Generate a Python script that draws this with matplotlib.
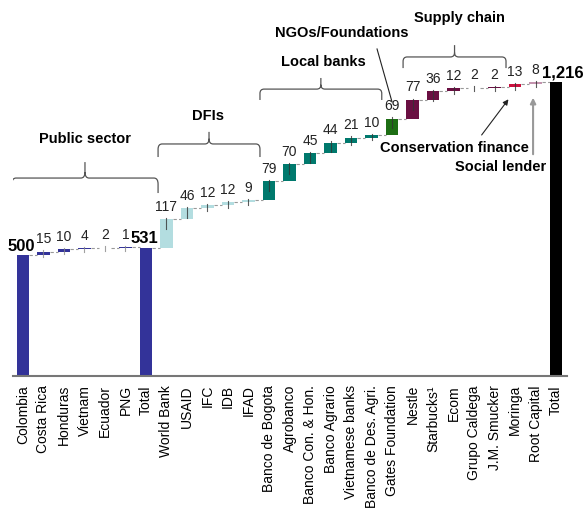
import numpy as np
import matplotlib.pyplot as plt
from matplotlib.path import Path
from matplotlib.patches import PathPatch

plt.rcParams['font.family'] = ['Liberation Sans', 'DejaVu Sans']

# data
labels = ['Colombia', 'Costa Rica', 'Honduras', 'Vietnam', 'Ecuador', 'PNG', 'Total',
          'World Bank', 'USAID', 'IFC', 'IDB', 'IFAD',
          'Banco de Bogota', 'Agrobanco', 'Banco Con. & Hon.', 'Banco Agrario',
          'Vietnamese banks', 'Banco de Des. Agri.',
          'Gates Foundation',
          'Nestle', 'Starbucks\u00b9', 'Ecom', 'Grupo Caldega', 'J.M. Smucker',
          'Moringa', 'Root Capital', 'Total']
values = [500, 15, 10, 4, 2, 1, 531,
          117, 46, 12, 12, 9,
          79, 70, 45, 44, 21, 10,
          69,
          77, 36, 12, 2, 2,
          13, 8, 1216]
groups = ['public'] * 7 + ['dfi'] * 5 + ['bank'] * 6 + ['ngo'] + ['supply'] * 5 + \
         ['conservation', 'social', 'total']
is_total = [True] + [False] * 5 + [True] + [False] * 19 + [True]

colors = {'public': '#333399', 'dfi': '#b3dde0', 'bank': '#00796d', 'ngo': '#1d6e14',
          'supply': '#6a0f42', 'conservation': '#cc103e', 'social': '#c393ae',
          'total': '#000000'}

# waterfall bottoms
bottoms = []
running = 0
for v, t in zip(values, is_total):
    if t:
        bottoms.append(0)
        running = v
    else:
        bottoms.append(running)
        running += v
bottoms = np.array(bottoms)
vals = np.array(values)
tops = bottoms + vals
x = np.arange(len(labels))
w = 0.6

fig = plt.figure(figsize=(5.86, 5.08), dpi=100)
ax = fig.add_axes([12.7 / 586, 132 / 508, (566.7 - 12.7) / 586, 376 / 508])

ax.bar(x, vals, w, bottom=bottoms, color=[colors[g] for g in groups], zorder=2)

# dashed connectors
for i in range(len(x) - 1):
    ax.plot([x[i] + w / 2, x[i + 1] - w / 2], [tops[i], tops[i]],
            color='#999999', lw=0.8, ls=(0, (3, 2)), zorder=1)

# little vertical marks on the step bars
for i in range(len(x)):
    if not is_total[i]:
        c = '#888888' if groups[i] == 'public' else '#333333'
        ax.plot([x[i], x[i]], [tops[i] + 6, tops[i] - min(40, vals[i] * 0.8 + 12)],
                color=c, lw=0.8, alpha=0.8, zorder=3)

# value labels
last = len(x) - 1
for i in range(len(x)):
    txt = '{:,}'.format(values[i])
    if i == last:
        ax.annotate(txt, (x[i] - w / 2, tops[i]), xytext=(-6, 1), textcoords='offset points',
                    ha='left', va='bottom', fontsize=12, fontweight='bold')
    elif is_total[i]:
        ax.annotate(txt, (x[i], tops[i]), xytext=(-1, 1), textcoords='offset points',
                    ha='center', va='bottom', fontsize=12, fontweight='bold')
    else:
        ax.annotate(txt, (x[i], tops[i]), xytext=(0, 4), textcoords='offset points',
                    ha='center', va='bottom', fontsize=10, color='#222222')


def brace(x0, x1, ylo, ymid, ytip):
    xm = (x0 + x1) / 2
    rx, ry = 0.2, (ymid - ylo) * 0.4
    verts = [(x0, ylo), (x0, ymid - ry), (x0, ymid), (x0 + rx, ymid),
             (xm - rx, ymid), (xm, ymid), (xm, ymid + ry), (xm, ytip),
             (xm, ymid + ry), (xm, ymid), (xm + rx, ymid),
             (x1 - rx, ymid), (x1, ymid), (x1, ymid - ry), (x1, ylo)]
    codes = [Path.MOVETO, Path.LINETO, Path.CURVE3, Path.CURVE3,
             Path.LINETO, Path.CURVE3, Path.CURVE3, Path.LINETO,
             Path.MOVETO, Path.CURVE3, Path.CURVE3,
             Path.LINETO, Path.CURVE3, Path.CURVE3, Path.LINETO]
    ax.add_patch(PathPatch(Path(verts, codes), fill=False, ec='#555555', lw=0.9))


brace(-0.54, 6.59, 757, 819, 885)
brace(6.59, 11.56, 906, 960, 1010)
brace(11.56, 17.5, 1142, 1187, 1233)
brace(18.54, 23.56, 1274, 1320, 1369)

bold = dict(fontsize=10.5, fontweight='bold', ha='center', va='center')
ax.text(3.02, 980, 'Public sector', **bold)
ax.text(9.02, 1076, 'DFIs', **bold)
ax.text(14.63, 1299, 'Local banks', **bold)
ax.text(15.56, 1419, 'NGOs/Foundations', **bold)
ax.text(21.27, 1481, 'Supply chain', **bold)
ax.text(21.05, 943, 'Conservation finance', **bold)
ax.text(23.3, 865, 'Social lender', **bold)

# pointers
ax.plot([17.27, 18.0], [1353, 1134], color='#222222', lw=0.8)
ax.annotate('', xy=(23.76, 1154), xytext=(22.29, 988),
            arrowprops=dict(arrowstyle='-|>', color='#222222', lw=0.8,
                            mutation_scale=8))
ax.annotate('', xy=(24.88, 1163), xytext=(24.88, 906),
            arrowprops=dict(arrowstyle='-|>', color='#999999', lw=1.5,
                            mutation_scale=8))

ax.set_xlim(-0.5, 26.52)
ax.set_ylim(0, 376 / 0.2417)
ax.set_xticks(x)
ax.set_xticklabels(labels, rotation=90, fontsize=10)
ax.tick_params(axis='x', length=0, pad=6.5)
ax.set_yticks([])
for s in ['left', 'right', 'top']:
    ax.spines[s].set_visible(False)
ax.spines['bottom'].set_color('#777777')
ax.spines['bottom'].set_linewidth(1.5)

plt.savefig('out.png', dpi=100)
